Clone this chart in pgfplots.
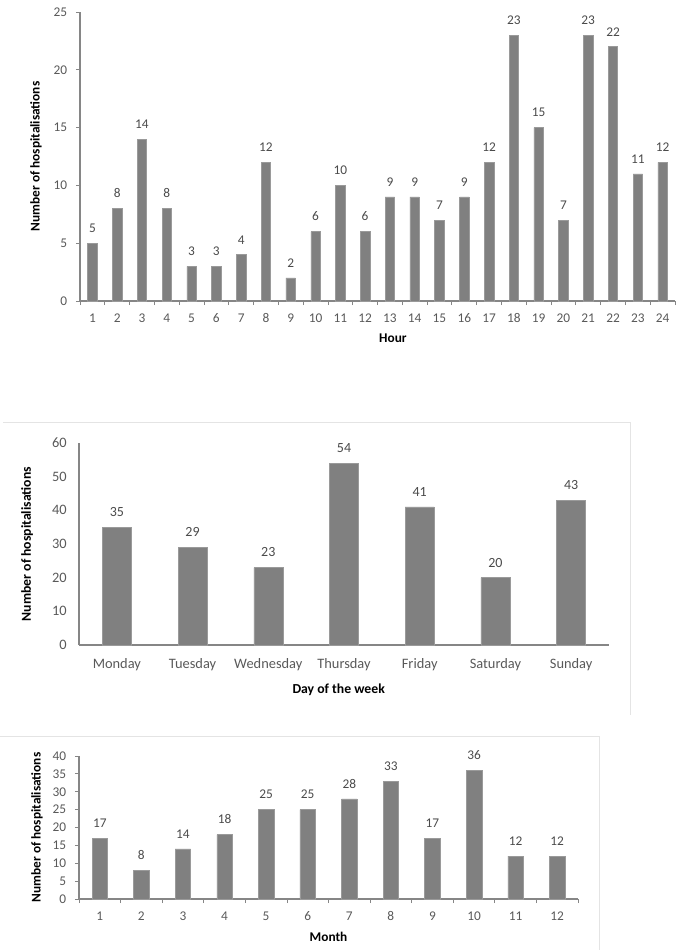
\documentclass[border=0pt]{standalone}
\usepackage{pgfplots}
\pgfplotsset{compat=1.18}
\usepackage{fontspec}
\setmainfont{Carlito}
\definecolor{barfill}{HTML}{808080}
\definecolor{baredge}{HTML}{9A9A9A}
\definecolor{axline}{HTML}{868686}
\definecolor{ticktext}{HTML}{595959}
\definecolor{valtext}{HTML}{4A4A4A}
\definecolor{frame}{HTML}{E4E4E4}

\pgfplotsset{
  hbar/.style={fill=barfill, draw=baredge, line width=0.4pt},
  hospbars/.style={
    scale only axis,
    anchor=south west,
    axis lines*=left,
    axis line style={axline, line width=0.8pt},
    ybar, clip=false,
    ymin=0,
    xtick=data,
    /pgf/number format/assume math mode=true,
    major x tick style={draw=none},
    tick align=outside,
    tick style={axline, line width=0.6pt},
    major tick length=3pt,
    minor tick length=3pt,
    nodes near coords,
    nodes near coords style={anchor=base, yshift=8pt, text=valtext},
    xticklabel style={anchor=base, inner sep=0pt, yshift=-12.75pt, text=ticktext},
    yticklabel style={anchor=east, inner sep=0pt, xshift=-6.5pt, text=ticktext},
    ylabel style={anchor=center},
    xlabel style={anchor=center},
    ylabel={Number of hospitalisations},
  }
}

\begin{document}
\begin{tikzpicture}
\path[use as bounding box] (0,0) rectangle (511.5pt,-712.5pt);

% frames around the lower panels
\draw[frame, line width=0.6pt] (2.25pt,-316.5pt) -- (472.5pt,-316.5pt) -- (472.5pt,-536.25pt);
\draw[frame, line width=0.6pt] (0pt,-552pt) -- (449.25pt,-552pt) -- (449.25pt,-712.5pt);

% Hour
\begin{axis}[hospbars,
  at={(60pt,-225.75pt)},
  width=446.25pt, height=216.75pt,
  bar width=7.1pt,
  xmin=0.5, xmax=24.5,
  ymax=25, ytick={0,5,...,25},
  minor xtick={0.5,1.5,...,24.5},
  tick label style={font=\fontsize{10}{11}\selectfont},
  nodes near coords style={font=\fontsize{10}{11}\selectfont},
  label style={font=\bfseries\fontsize{10}{11}\selectfont},
  xlabel={Hour},
  xlabel style={at={(axis description cs:0.526,-0.128)}},
  ylabel style={at={(axis description cs:-0.074,0.5)}},
]
\addplot[hbar] coordinates {(1,5) (2,8) (3,14) (4,8) (5,3) (6,3) (7,4) (8,12)
  (9,2) (10,6) (11,10) (12,6) (13,9) (14,9) (15,7) (16,9) (17,12) (18,23)
  (19,15) (20,7) (21,23) (22,22) (23,11) (24,12)};
\end{axis}

% Day of the week
\begin{axis}[hospbars,
  at={(59.25pt,-483.75pt)},
  width=397.5pt, height=151.5pt,
  bar width=21.75pt,
  xmin=0.5, xmax=7.5,
  ymax=60, ytick={0,10,...,60},
  major tick length=0pt,
  xticklabels={Monday,Tuesday,Wednesday,Thursday,Friday,Saturday,Sunday},
  tick label style={font=\fontsize{10.8}{12}\selectfont},
  nodes near coords style={font=\fontsize{10.5}{12}\selectfont},
  label style={font=\bfseries\fontsize{10.3}{12}\selectfont},
  xticklabel style={yshift=-4.5pt},
  yticklabel style={xshift=-2.5pt},
  xlabel={Day of the week},
  xlabel style={at={(axis description cs:0.49,-0.223)}},
  ylabel style={at={(axis description cs:-0.098,0.5)}},
]
\addplot[hbar] coordinates {(1,35) (2,29) (3,23) (4,54) (5,41) (6,20) (7,43)};
\end{axis}

% Month
\begin{axis}[hospbars,
  at={(59.25pt,-674.25pt)},
  width=374.25pt, height=107.25pt,
  bar width=11.6pt,
  xmin=0.5, xmax=12.5,
  ymax=40, ytick={0,5,...,40},
  minor xtick={0.5,1.5,...,12.5},
  tick label style={font=\fontsize{10}{11}\selectfont},
  nodes near coords style={font=\fontsize{10}{11}\selectfont},
  label style={font=\bfseries\fontsize{10}{11}\selectfont},
  xlabel={Month},
  xlabel style={at={(axis description cs:0.50,-0.266)}},
  ylabel style={at={(axis description cs:-0.084,0.5)}},
]
\addplot[hbar] coordinates {(1,17) (2,8) (3,14) (4,18) (5,25) (6,25) (7,28) (8,33)
  (9,17) (10,36) (11,12) (12,12)};
\end{axis}
\end{tikzpicture}
\end{document}
